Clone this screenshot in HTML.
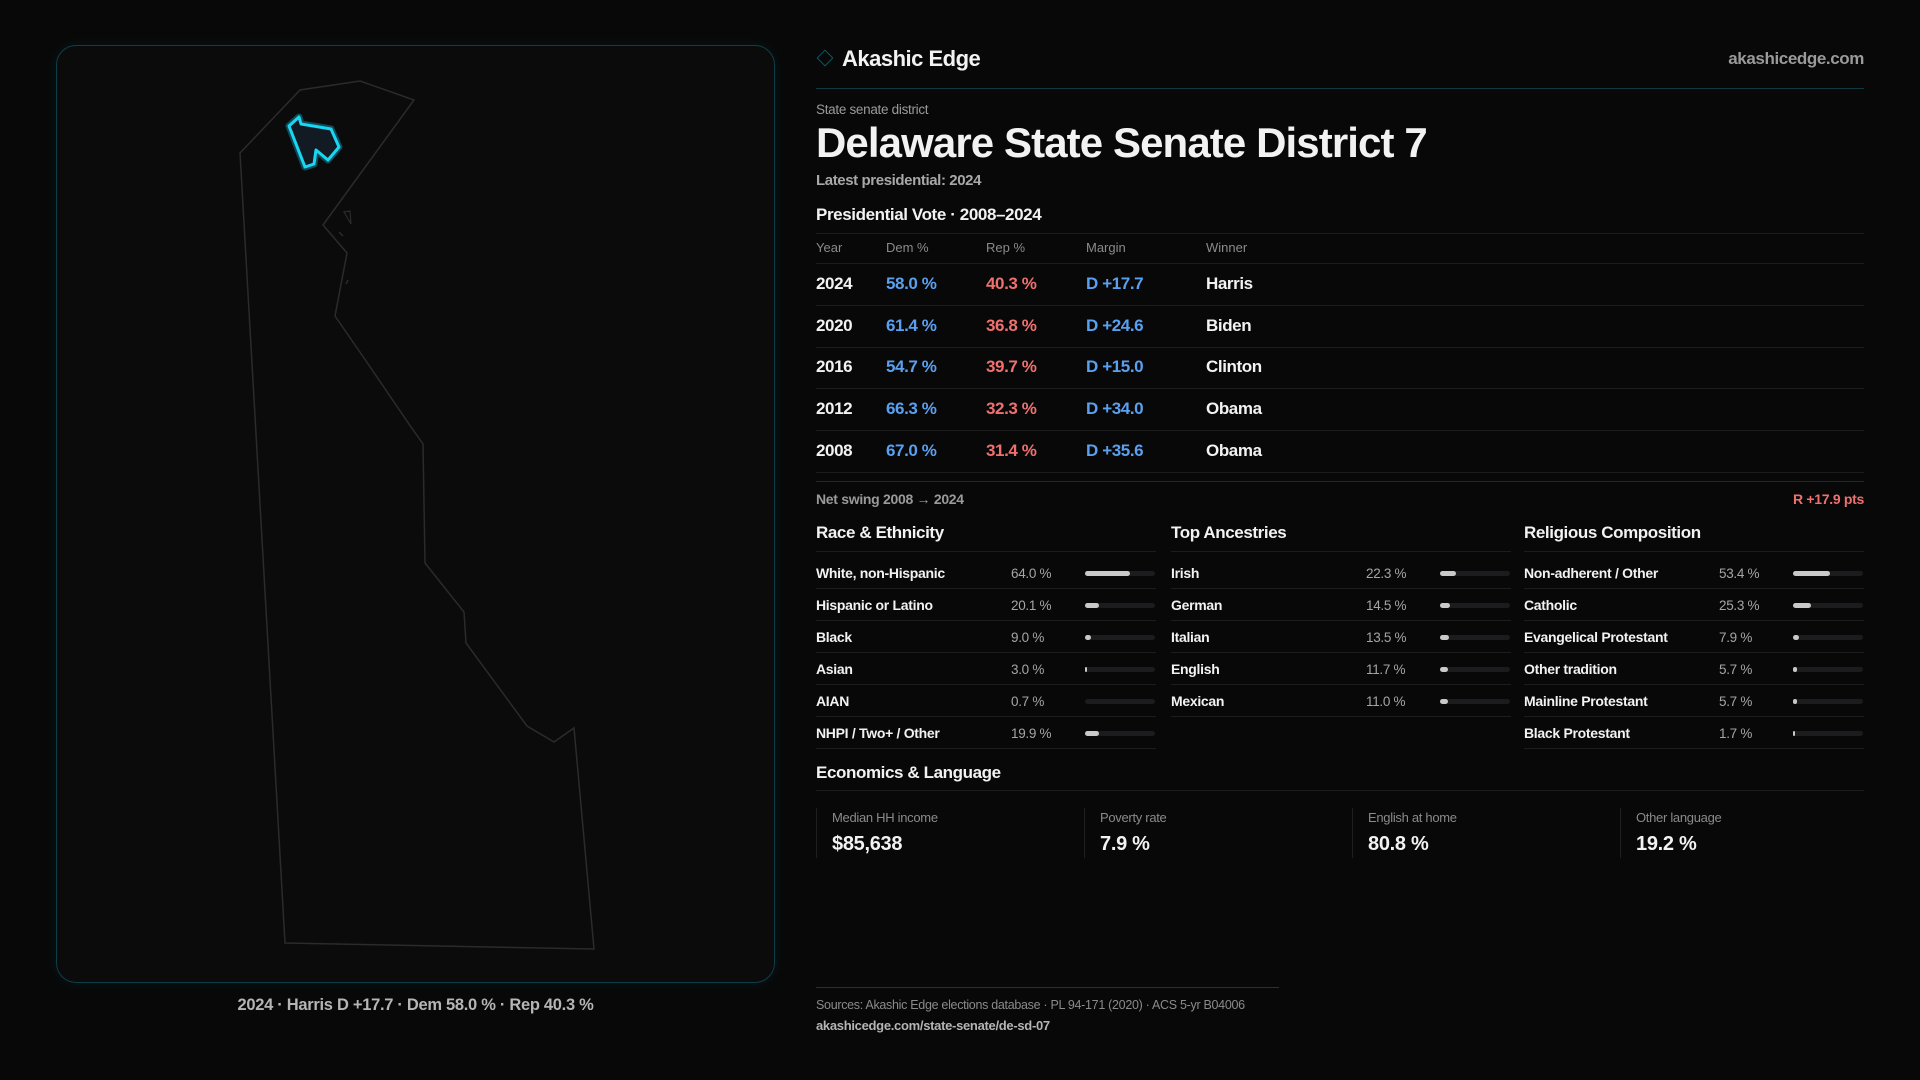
<!DOCTYPE html>
<html><head><meta charset="utf-8"><style>
*{margin:0;padding:0;box-sizing:border-box}
body{width:1920px;height:1080px;background:#080808;font-family:"Liberation Sans",sans-serif;color:#f2f2f2;position:relative;overflow:hidden}
.a{position:absolute;white-space:nowrap}
.g{color:#9a9a9a}
.line{position:absolute;height:1px;background:#1d1d1f}
.row{position:absolute;left:816px;font-size:17px;font-weight:bold;letter-spacing:-0.4px}
.dem{color:#5aa0f0}.rep{color:#f07070}
.bar{position:absolute;height:5px;width:70px;background:#1c1c1e;border-radius:3px}
.bar i{display:block;height:5px;background:#c9c9c9;border-radius:3px}
.lbl{font-size:14px;font-weight:bold;letter-spacing:-0.3px}
.val{font-size:13.5px;color:#a5a5a5;letter-spacing:-0.3px}
.card{position:absolute;top:808px;height:50px;border-left:1px solid #1f1f22;padding-left:15px}
.card .l{font-size:13px;color:#8a8a8a;margin-top:2px;letter-spacing:-0.3px}
.card .v{font-size:20px;font-weight:bold;margin-top:8px;letter-spacing:-0.3px}
</style></head><body>
<div class="a" style="left:56px;top:45px;width:719px;height:938px;border:1px solid #0f3e48;border-radius:20px;background:#0b0b0c;box-shadow:0 0 14px rgba(0,200,230,0.08)"></div>
<svg class="a" style="left:0;top:0" width="800" height="1000">
<polygon points="240,153 300,90 360,81 414,100 323,225 347,253 335,316 364,358 411,427 423,444 425,563 464,612 466,643 527,726 554,742 574,728 594,949 285,943" fill="none" stroke="#2b2b2d" stroke-width="1.5"/>
<polygon points="344,212 350,211 351,224" fill="none" stroke="#2b2b2d" stroke-width="1.2"/>
<line x1="339" y1="232" x2="343" y2="236" stroke="#2b2b2d" stroke-width="1.5"/>
<line x1="346" y1="284" x2="348" y2="280" stroke="#2b2b2d" stroke-width="1.5"/>
<polygon points="289,126 299,117 301,124 331,129 339,147 328,160 316,150 314,164 305,167" fill="#121a24" stroke="#0f4a58" stroke-width="7" stroke-linejoin="round"/>
<polygon points="289,126 299,117 301,124 331,129 339,147 328,160 316,150 314,164 305,167" fill="#121a24" stroke="#19d6f2" stroke-width="3" stroke-linejoin="round"/>
</svg>
<div class="a" style="left:56px;width:719px;top:996px;text-align:center;font-size:16.5px;font-weight:bold;color:#b5b5b5;letter-spacing:-0.3px">2024 · Harris D +17.7 · Dem 58.0 % · Rep 40.3 %</div>

<div class="a" style="left:819px;top:52px;width:12px;height:12px;border:1.5px solid #0f5565;transform:rotate(45deg)"></div>
<div class="a" style="left:842px;top:46px;font-size:22px;font-weight:bold;letter-spacing:-0.5px">Akashic Edge</div>
<div class="a" style="right:56px;top:49px;font-size:17px;font-weight:bold;color:#9a9a9a;letter-spacing:-0.4px">akashicedge.com</div>
<div class="line" style="left:816px;width:1048px;top:88px;background:#0f3a42"></div>
<div class="a g" style="left:816px;top:102px;font-size:13.5px;letter-spacing:-0.3px">State senate district</div>
<div class="a" style="left:816px;top:119px;font-size:42px;font-weight:bold;letter-spacing:-0.9px">Delaware State Senate District 7</div>
<div class="a" style="left:816px;top:172px;font-size:15px;color:#a8a8a8;font-weight:bold;letter-spacing:-0.4px">Latest presidential: 2024</div>
<div class="a" style="left:816px;top:205px;font-size:17px;font-weight:bold;letter-spacing:-0.4px">Presidential Vote · 2008–2024</div>
<div class="line" style="left:816px;width:1048px;top:233px"></div>
<div class="a g" style="left:816px;top:240px;font-size:13px;color:#8a8a8a">Year</div>
<div class="a g" style="left:886px;top:240px;font-size:13px;color:#8a8a8a">Dem %</div>
<div class="a g" style="left:986px;top:240px;font-size:13px;color:#8a8a8a">Rep %</div>
<div class="a g" style="left:1086px;top:240px;font-size:13px;color:#8a8a8a">Margin</div>
<div class="a g" style="left:1206px;top:240px;font-size:13px;color:#8a8a8a">Winner</div>
<div class="line" style="left:816px;width:1048px;top:263px"></div>

<div class="row" style="top:274px"><span class="a" style="left:0">2024</span><span class="a dem" style="left:70px">58.0 %</span><span class="a rep" style="left:170px">40.3 %</span><span class="a dem" style="left:270px">D +17.7</span><span class="a" style="left:390px">Harris</span></div>
<div class="line" style="left:816px;width:1048px;top:305px"></div>
<div class="row" style="top:316px"><span class="a" style="left:0">2020</span><span class="a dem" style="left:70px">61.4 %</span><span class="a rep" style="left:170px">36.8 %</span><span class="a dem" style="left:270px">D +24.6</span><span class="a" style="left:390px">Biden</span></div>
<div class="line" style="left:816px;width:1048px;top:347px"></div>
<div class="row" style="top:357px"><span class="a" style="left:0">2016</span><span class="a dem" style="left:70px">54.7 %</span><span class="a rep" style="left:170px">39.7 %</span><span class="a dem" style="left:270px">D +15.0</span><span class="a" style="left:390px">Clinton</span></div>
<div class="line" style="left:816px;width:1048px;top:388px"></div>
<div class="row" style="top:399px"><span class="a" style="left:0">2012</span><span class="a dem" style="left:70px">66.3 %</span><span class="a rep" style="left:170px">32.3 %</span><span class="a dem" style="left:270px">D +34.0</span><span class="a" style="left:390px">Obama</span></div>
<div class="line" style="left:816px;width:1048px;top:430px"></div>
<div class="row" style="top:441px"><span class="a" style="left:0">2008</span><span class="a dem" style="left:70px">67.0 %</span><span class="a rep" style="left:170px">31.4 %</span><span class="a dem" style="left:270px">D +35.6</span><span class="a" style="left:390px">Obama</span></div>
<div class="line" style="left:816px;width:1048px;top:472px"></div>
<div class="line" style="left:816px;width:1048px;top:481px;background:#262628"></div>
<div class="a" style="left:816px;top:491px;font-size:14px;color:#9a9a9a;font-weight:bold;letter-spacing:-0.3px">Net swing 2008 → 2024</div>
<div class="a rep" style="right:56px;top:491px;font-size:14px;font-weight:bold;letter-spacing:-0.3px">R +17.9 pts</div>

<div class="a" style="left:816px;top:523px;font-size:17px;font-weight:bold;letter-spacing:-0.4px">Race &amp; Ethnicity</div>
<div class="a" style="left:1171px;top:523px;font-size:17px;font-weight:bold;letter-spacing:-0.4px">Top Ancestries</div>
<div class="a" style="left:1524px;top:523px;font-size:17px;font-weight:bold;letter-spacing:-0.4px">Religious Composition</div>

<div id="cols"></div>
<script>
var cols=[[816,[["White, non-Hispanic","64.0 %",64],["Hispanic or Latino","20.1 %",20.1],["Black","9.0 %",9],["Asian","3.0 %",3],["AIAN","0.7 %",0.7],["NHPI / Two+ / Other","19.9 %",19.9]]],
[1171,[["Irish","22.3 %",22.3],["German","14.5 %",14.5],["Italian","13.5 %",13.5],["English","11.7 %",11.7],["Mexican","11.0 %",11]]],
[1524,[["Non-adherent / Other","53.4 %",53.4],["Catholic","25.3 %",25.3],["Evangelical Protestant","7.9 %",7.9],["Other tradition","5.7 %",5.7],["Mainline Protestant","5.7 %",5.7],["Black Protestant","1.7 %",1.7]]]];
var h="";
cols.forEach(function(c){var x=c[0];
h+='<div class="line" style="left:'+x+'px;width:340px;top:551px"></div>';
c[1].forEach(function(r,i){var y=573+i*32;
h+='<div class="a lbl" style="left:'+x+'px;top:'+(y-8)+'px">'+r[0]+'</div>';
h+='<div class="a val" style="left:'+(x+195)+'px;top:'+(y-7)+'px">'+r[1]+'</div>';
var w=r[2]<1?0:Math.max(2,r[2]*0.7);
h+='<div class="bar" style="left:'+(x+269)+'px;top:'+(y-2)+'px"><i style="width:'+w+'px"></i></div>';
h+='<div class="line" style="left:'+x+'px;width:340px;top:'+(y+15)+'px"></div>';});});
document.getElementById("cols").innerHTML=h;
</script>

<div class="a" style="left:816px;top:763px;font-size:17px;font-weight:bold;letter-spacing:-0.4px">Economics &amp; Language</div>
<div class="line" style="left:816px;width:1048px;top:790px"></div>
<div class="card" style="left:816px"><div class="l">Median HH income</div><div class="v">$85,638</div></div>
<div class="card" style="left:1084px"><div class="l">Poverty rate</div><div class="v">7.9 %</div></div>
<div class="card" style="left:1352px"><div class="l">English at home</div><div class="v">80.8 %</div></div>
<div class="card" style="left:1620px"><div class="l">Other language</div><div class="v">19.2 %</div></div>

<div class="line" style="left:816px;width:463px;top:987px;background:#0f3a42"></div>
<div class="a" style="left:816px;top:998px;font-size:12.5px;color:#8a8a8a;letter-spacing:-0.3px">Sources: Akashic Edge elections database · PL 94-171 (2020) · ACS 5-yr B04006</div>
<div class="a" style="left:816px;top:1018px;font-size:13px;color:#b5b5b5;font-weight:bold;letter-spacing:-0.3px">akashicedge.com/state-senate/de-sd-07</div>
</body></html>
